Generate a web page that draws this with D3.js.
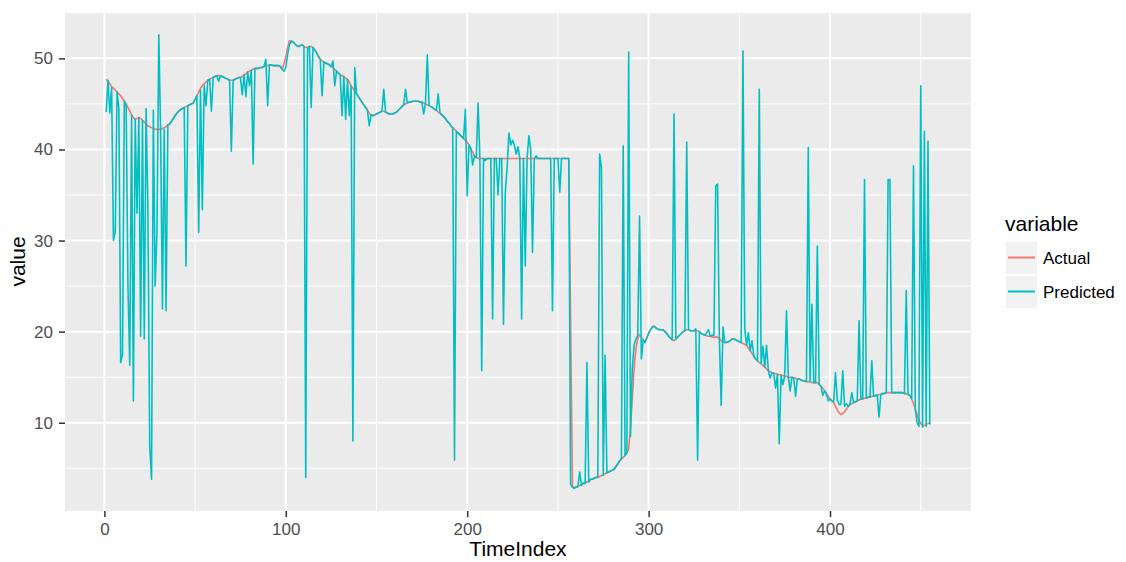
<!DOCTYPE html>
<html>
<head>
<meta charset="utf-8">
<script src="https://cdn.jsdelivr.net/npm/d3@7"></script>
<style>
  body { margin: 0; background: #ffffff; }
  text { font-family: "Liberation Sans", Arial, sans-serif; }
</style>
</head>
<body>
<div id="chart"></div>
<script>
// values, TimeIndex 1..455
const actual = [
  47.7, 47.5, 47.2, 46.9, 46.7, 46.5, 46.3, 46.1, 45.9, 45.6,
  45.3, 45.0, 44.6, 44.2, 43.8, 43.5, 43.3, 43.4, 43.5, 43.4,
  43.2, 43.0, 42.8, 42.6, 42.5, 42.4, 42.3, 42.2, 42.2, 42.2,
  42.2, 42.3, 42.4, 42.5, 42.7, 42.8, 43.1, 43.4, 43.7, 44.0,
  44.2, 44.4, 44.5, 44.6, 44.7, 44.8, 44.9, 45.0, 45.1, 45.5,
  45.9, 46.3, 46.7, 47.0, 47.2, 47.4, 47.6, 47.7, 47.8, 47.9,
  48.0, 48.1, 48.1, 48.1, 48.0, 47.9, 47.8, 47.7, 47.6, 47.6,
  47.6, 47.7, 47.8, 47.9, 47.9, 48.0, 48.2, 48.3, 48.5, 48.6,
  48.7, 48.8, 48.9, 48.9, 48.9, 49.0, 49.0, 49.1, 49.2, 49.2,
  49.3, 49.3, 49.2, 49.2, 49.2, 49.2, 49.1, 48.8, 49.4, 50.1,
  51.2, 51.9, 51.9, 51.8, 51.6, 51.4, 51.3, 51.4, 51.5, 51.3,
  51.2, 51.2, 51.3, 51.3, 51.2, 50.9, 50.6, 50.2, 49.9, 49.7,
  49.6, 49.5, 49.4, 49.3, 49.1, 49.0, 48.8, 48.6, 48.4, 48.2,
  48.1, 48.0, 47.8, 47.7, 47.4, 47.0, 46.7, 46.4, 46.1, 45.8,
  45.5, 45.2, 44.9, 44.6, 44.3, 44.0, 43.8, 43.7, 43.8, 43.9,
  44.0, 44.1, 44.2, 44.2, 44.1, 44.0, 43.9, 43.9, 43.9, 44.0,
  44.1, 44.3, 44.5, 44.7, 44.9, 45.0, 45.1, 45.2, 45.2, 45.3,
  45.3, 45.3, 45.3, 45.2, 45.2, 45.1, 45.0, 44.9, 44.8, 44.7,
  44.6, 44.4, 44.3, 44.1, 44.0, 43.8, 43.6, 43.4, 43.1, 42.9,
  42.6, 42.4, 42.2, 42.0, 41.8, 41.6, 41.4, 41.2, 41.0, 40.8,
  40.5, 40.1, 39.7, 39.3, 39.1, 39.0, 39.0, 39.0, 39.0, 39.0,
  39.0, 39.0, 39.0, 39.0, 39.0, 39.0, 39.0, 39.0, 39.0, 39.0,
  39.0, 39.0, 39.0, 39.0, 39.0, 39.0, 39.0, 39.0, 39.0, 39.0,
  39.0, 39.0, 39.0, 39.0, 39.0, 39.0, 39.0, 39.0, 39.0, 39.0,
  39.0, 39.0, 39.0, 39.0, 39.0, 39.0, 39.0, 39.0, 39.0, 39.0,
  39.0, 39.0, 39.0, 39.0, 39.0, 39.0, 21.0, 3.0, 2.9, 2.9,
  3.0, 3.1, 3.2, 3.3, 3.4, 3.5, 3.6, 3.8, 3.8, 3.9,
  4.0, 4.0, 4.1, 4.2, 4.3, 4.4, 4.5, 4.6, 4.7, 4.8,
  4.9, 5.2, 5.5, 5.8, 6.0, 6.2, 6.4, 6.7, 7.1, 9.5,
  12.6, 16.0, 18.1, 19.2, 19.7, 19.4, 19.1, 18.8, 19.3, 19.8,
  20.2, 20.5, 20.6, 20.4, 20.3, 20.2, 20.2, 20.2, 20.0, 19.8,
  19.5, 19.3, 19.1, 19.0, 19.2, 19.4, 19.6, 19.8, 20.0, 20.1,
  20.2, 20.2, 20.1, 20.1, 20.1, 20.1, 20.1, 20.0, 19.8, 19.7,
  19.6, 19.55, 19.5, 19.5, 19.4, 19.4, 19.4, 19.4, 19.2, 19.0,
  18.9, 18.8, 18.8, 18.9, 19.0, 19.2, 19.2, 19.1, 19.0, 18.9,
  18.8, 18.7, 18.6, 18.5, 18.2, 17.9, 17.6, 17.3, 17.0, 16.8,
  16.6, 16.5, 16.3, 16.1, 15.9, 15.7, 15.6, 15.5, 15.4, 15.4,
  15.3, 15.3, 15.2, 15.2, 15.1, 15.1, 15.0, 15.0, 15.0, 14.9,
  14.9, 14.8, 14.8, 14.7, 14.6, 14.6, 14.5, 14.5, 14.5, 14.4,
  14.4, 14.4, 14.4, 14.2, 14.0, 13.8, 13.5, 13.2, 12.9, 12.6,
  12.4, 12.2, 11.8, 11.4, 11.1, 10.9, 11.0, 11.2, 11.5, 11.8,
  12.0, 12.1, 12.2, 12.3, 12.4, 12.5, 12.6, 12.6, 12.7, 12.7,
  12.8, 12.8, 12.9, 12.9, 13.0, 13.0, 13.1, 13.1, 13.2, 13.2,
  13.3, 13.3, 13.3, 13.3, 13.3, 13.3, 13.3, 13.3, 13.3, 13.3,
  13.2, 13.2, 13.1, 13.0, 12.6, 12.1, 11.5, 10.9, 10.3, 9.9,
  9.7, 9.7, 9.8, 9.9, 10.0
];

const predicted = [
  44.1, 47.6, 44.0, 46.8, 30.0, 31.0, 46.3, 44.5, 16.6, 17.5,
  45.3, 44.8, 25.0, 16.3, 43.8, 12.4, 43.3, 33.0, 43.5, 19.5,
  43.2, 19.2, 44.5, 33.4, 7.5, 3.8, 44.3, 25.0, 31.0, 52.6,
  42.0, 22.5, 42.2, 22.3, 42.7, 42.8, 43.1, 43.4, 43.7, 44.0,
  44.2, 44.4, 44.5, 44.6, 27.2, 44.8, 44.9, 45.0, 45.1, 45.5,
  45.9, 30.9, 46.5, 33.4, 47.0, 44.8, 47.6, 47.7, 44.2, 47.9,
  48.0, 48.1, 47.5, 48.1, 48.0, 47.9, 47.8, 47.7, 47.6, 39.8,
  47.6, 47.7, 47.8, 47.9, 47.9, 46.0, 48.2, 45.8, 48.5, 47.0,
  48.7, 38.4, 48.9, 48.9, 48.9, 49.0, 49.0, 49.1, 49.9, 44.8,
  49.3, 49.3, 49.2, 49.2, 49.2, 49.2, 49.1, 48.8, 48.6, 49.0,
  50.4, 51.5, 51.9, 51.8, 51.6, 51.4, 51.3, 51.4, 51.5, 51.3,
  4.0, 51.0, 51.3, 44.6, 51.2, 50.9, 50.6, 50.2, 49.9, 45.9,
  49.6, 49.5, 49.4, 49.3, 49.1, 49.7, 47.0, 48.6, 48.4, 48.2,
  43.7, 48.0, 43.3, 47.7, 43.7, 47.0, 8.0, 49.0, 46.1, 45.8,
  45.5, 45.2, 44.9, 44.6, 44.3, 42.6, 43.8, 43.7, 43.8, 43.9,
  44.0, 44.1, 44.2, 46.6, 44.1, 44.0, 43.9, 43.9, 43.9, 44.0,
  44.1, 44.3, 44.5, 44.7, 44.9, 46.6, 45.1, 45.2, 45.2, 45.3,
  45.3, 45.3, 45.3, 45.2, 45.2, 43.9, 45.0, 50.4, 44.8, 44.7,
  44.6, 44.4, 44.3, 46.1, 44.0, 43.8, 43.6, 43.4, 43.1, 42.9,
  42.6, 42.4, 5.9, 42.0, 41.8, 41.6, 41.4, 41.2, 44.4, 34.9,
  40.5, 40.1, 38.3, 39.3, 39.1, 45.1, 39.0, 15.7, 39.0, 38.8,
  39.0, 39.0, 39.0, 21.4, 39.0, 39.0, 35.0, 39.0, 39.0, 20.8,
  35.3, 38.0, 41.8, 40.5, 41.0, 40.5, 39.5, 40.3, 39.0, 21.4,
  39.0, 27.2, 39.0, 41.5, 40.0, 28.7, 39.0, 39.3, 39.0, 39.0,
  39.0, 39.0, 39.0, 39.0, 39.0, 39.0, 22.3, 39.0, 39.0, 39.0,
  35.3, 39.0, 39.0, 39.0, 39.0, 39.0, 3.2, 2.9, 2.8, 2.9,
  3.0, 4.6, 3.1, 3.4, 3.3, 16.6, 3.5, 3.8, 3.8, 3.9,
  4.0, 4.0, 39.5, 38.0, 4.2, 17.4, 4.5, 4.6, 4.7, 4.8,
  4.9, 5.2, 5.5, 5.8, 6.0, 40.4, 6.4, 6.7, 50.7, 8.5,
  16.0, 18.5, 19.2, 19.6, 32.7, 17.0, 19.1, 18.8, 19.3, 19.8,
  20.2, 20.5, 20.6, 20.4, 20.3, 20.2, 20.2, 20.2, 20.0, 19.8,
  19.5, 19.3, 19.1, 43.9, 19.2, 19.4, 19.6, 19.8, 20.0, 20.1,
  40.8, 20.2, 20.1, 20.1, 20.1, 20.3, 5.9, 20.0, 19.8, 19.7,
  19.6, 19.9, 20.2, 19.5, 19.6, 19.6, 36.0, 36.2, 19.2, 11.9,
  20.5, 18.8, 18.8, 18.9, 19.0, 19.2, 19.2, 19.1, 19.0, 18.9,
  18.8, 50.8, 20.3, 18.5, 19.9, 17.9, 19.0, 17.3, 17.0, 16.8,
  46.6, 16.5, 18.4, 16.1, 18.5, 15.7, 14.9, 15.5, 15.4, 13.8,
  15.3, 7.7, 15.2, 14.2, 15.1, 22.3, 15.0, 13.5, 15.0, 14.9,
  12.9, 14.8, 14.8, 14.7, 14.6, 14.6, 14.5, 40.2, 14.5, 23.0,
  14.4, 14.4, 29.4, 14.2, 14.0, 13.0, 13.5, 13.2, 12.4, 12.6,
  12.4, 12.3, 15.5, 12.5, 12.0, 12.0, 15.7, 11.8, 12.1, 11.8,
  12.0, 13.3, 12.2, 12.3, 12.4, 21.2, 12.6, 12.6, 36.7, 12.7,
  12.8, 12.8, 16.8, 12.9, 13.0, 13.0, 10.6, 13.1, 13.2, 13.2,
  13.3, 36.7, 36.7, 13.3, 13.3, 13.3, 13.3, 13.3, 13.3, 13.3,
  13.2, 24.5, 13.1, 13.0, 12.6, 38.2, 11.5, 10.0, 9.6, 47.0,
  9.5, 42.0, 9.6, 40.9, 9.8
];

const seriesNames = ["Actual", "Predicted"];
const seriesColors = ["#F8766D", "#00BFC4"];
const xTicks = [0, 100, 200, 300, 400];
const yTicks = [10, 20, 30, 40, 50];

const width = 1126;
const height = 562;
const panel = { left: 65, right: 971, top: 12, bottom: 511 };

const series = [actual, predicted];

// ggplot-style 5% expansion
const expand = ([a, b]) => {
    const pad = (b - a) * 0.05;
    return [a - pad, b + pad];
};

const xScale = d3.scaleLinear()
    .domain(expand([1, actual.length]))
    .range([panel.left, panel.right]);

const yScale = d3.scaleLinear()
    .domain(expand(d3.extent(actual.concat(predicted))))
    .range([panel.bottom, panel.top]);

const minorBetween = (ticks, domain) => {
    const step = ticks[1] - ticks[0];
    const out = [];
    for (let v = ticks[0] - step / 2; v <= ticks[ticks.length - 1] + step; v += step) {
        if (v >= domain[0] && v <= domain[1]) out.push(v);
    }
    return out;
};

const svg = d3.select("#chart")
    .append("svg")
    .attr("width", width)
    .attr("height", height)
    .attr("viewBox", `0 0 ${width} ${height}`);

svg.append("rect")
    .attr("x", panel.left)
    .attr("y", panel.top)
    .attr("width", panel.right - panel.left)
    .attr("height", panel.bottom - panel.top)
    .attr("fill", "#EBEBEB");

const grid = svg.append("g").attr("class", "grid");

grid.selectAll(".x-minor")
    .data(minorBetween(xTicks, xScale.domain()))
    .join("line")
    .attr("x1", d => xScale(d)).attr("x2", d => xScale(d))
    .attr("y1", panel.top).attr("y2", panel.bottom)
    .attr("stroke", "#ffffff").attr("stroke-width", 1);

grid.selectAll(".y-minor")
    .data(minorBetween(yTicks, yScale.domain()))
    .join("line")
    .attr("x1", panel.left).attr("x2", panel.right)
    .attr("y1", d => yScale(d)).attr("y2", d => yScale(d))
    .attr("stroke", "#ffffff").attr("stroke-width", 1);

grid.selectAll(".x-major")
    .data(xTicks)
    .join("line")
    .attr("x1", d => xScale(d)).attr("x2", d => xScale(d))
    .attr("y1", panel.top).attr("y2", panel.bottom)
    .attr("stroke", "#ffffff").attr("stroke-width", 2);

grid.selectAll(".y-major")
    .data(yTicks)
    .join("line")
    .attr("x1", panel.left).attr("x2", panel.right)
    .attr("y1", d => yScale(d)).attr("y2", d => yScale(d))
    .attr("stroke", "#ffffff").attr("stroke-width", 2);

const line = d3.line()
    .x((d, i) => xScale(i + 1))
    .y(d => yScale(d));

svg.append("g")
    .selectAll("path")
    .data(series)
    .join("path")
    .attr("d", line)
    .attr("fill", "none")
    .attr("stroke", (d, i) => seriesColors[i])
    .attr("stroke-width", 1.6)
    .attr("stroke-linejoin", "round");

// axes
const xAxis = svg.append("g")
    .attr("transform", `translate(0, ${panel.bottom})`)
    .call(d3.axisBottom(xScale).tickValues(xTicks).tickSize(6).tickPadding(6));

const yAxis = svg.append("g")
    .attr("transform", `translate(${panel.left}, 0)`)
    .call(d3.axisLeft(yScale).tickValues(yTicks).tickSize(6).tickPadding(6));

[xAxis, yAxis].forEach(ax => {
    ax.select(".domain").remove();
    ax.selectAll(".tick line").attr("stroke", "#333333").attr("stroke-width", 1.5);
    ax.selectAll(".tick text")
        .attr("fill", "#4D4D4D")
        .style("font-size", "17px")
        .style("font-family", "'Liberation Sans', Arial, sans-serif");
});

svg.append("text")
    .attr("x", (panel.left + panel.right) / 2)
    .attr("y", 556)
    .attr("text-anchor", "middle")
    .style("font-size", "21px")
    .attr("fill", "#000000")
    .text("TimeIndex");

svg.append("text")
    .attr("transform", `translate(25, ${(panel.top + panel.bottom) / 2}) rotate(-90)`)
    .attr("text-anchor", "middle")
    .style("font-size", "21px")
    .attr("fill", "#000000")
    .text("value");

// legend
const legend = svg.append("g").attr("transform", "translate(1005, 0)");

legend.append("text")
    .attr("x", 0)
    .attr("y", 231)
    .style("font-size", "21px")
    .attr("fill", "#000000")
    .text("variable");

const keys = legend.selectAll(".key")
    .data(seriesNames)
    .join("g")
    .attr("class", "key")
    .attr("transform", (d, i) => `translate(0, ${241 + i * 34})`);

keys.append("rect")
    .attr("width", 33)
    .attr("height", 34)
    .attr("fill", "#F2F2F2")
    .attr("stroke", "#ffffff")
    .attr("stroke-width", 1.5);

keys.append("line")
    .attr("x1", 3).attr("x2", 30)
    .attr("y1", 16.5).attr("y2", 16.5)
    .attr("stroke", (d, i) => seriesColors[i])
    .attr("stroke-width", 2);

keys.append("text")
    .attr("x", 38)
    .attr("y", 23)
    .style("font-size", "17px")
    .attr("fill", "#000000")
    .text(d => d);
</script>
</body>
</html>
